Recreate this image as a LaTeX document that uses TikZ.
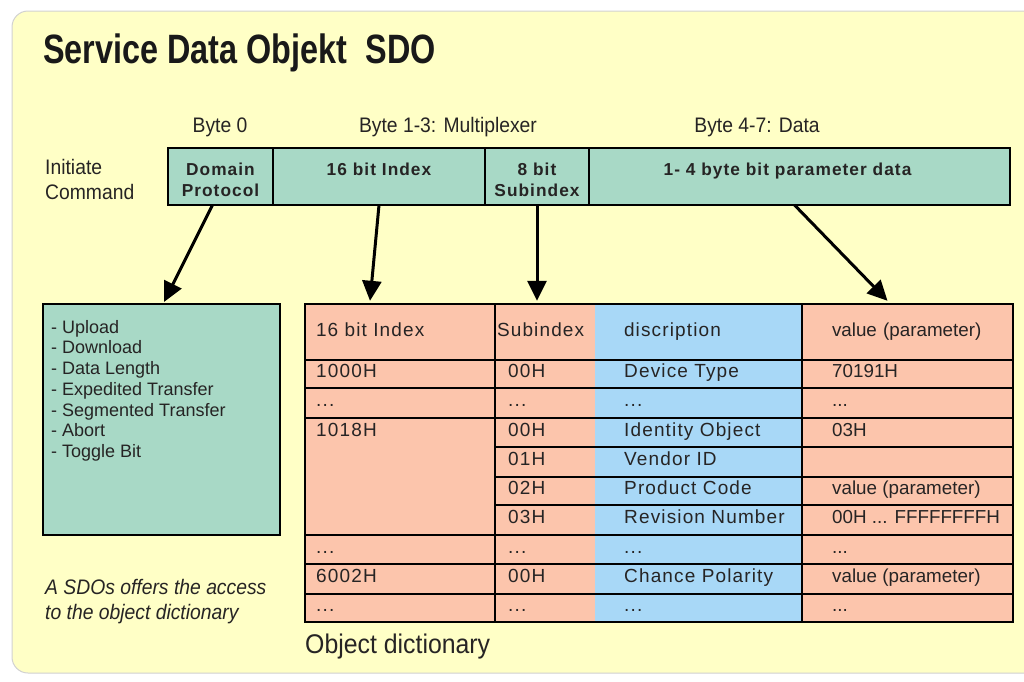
\documentclass[tikz,border=0pt]{standalone}
\usepackage{graphicx}
\usepackage{fontspec}
\setmainfont{Liberation Sans}
\newfontfamily\spacedfont[LetterSpace=6]{Liberation Sans}
\usetikzlibrary{arrows.meta,positioning,calc}

\definecolor{sdoyellow}{RGB}{255,255,198}
\definecolor{sdogreen}{RGB}{168,217,198}
\definecolor{sdosalmon}{RGB}{252,197,172}
\definecolor{sdoblue}{RGB}{168,216,247}
\definecolor{sdotext}{RGB}{38,36,36}

\newcommand{\sdonarrow}[2][0.92]{\scalebox{#1}[1]{#2}}
\newcommand{\tdots}{...}

\begin{document}
\begin{tikzpicture}[x=1pt,y=-1pt]  % one unit = one pixel of the sketch, y runs downwards

    % Define some common styles
    \tikzset{
        barcell/.style={draw=black, line width=2.5pt, fill=sdogreen, minimum height=57pt, inner sep=0pt, outer sep=0pt},
        bartext/.style={inner sep=0pt, align=center, text=sdotext, font=\fontsize{17.3}{21}\spacedfont\bfseries},
        toplabel/.style={inner sep=0pt, text=sdotext, font=\fontsize{21}{25}\selectfont},
        tabline/.style={line width=2.5pt, line cap=rect},
        headcell/.style={inner ysep=0pt, minimum height=56pt, align=left, text=sdotext, font=\fontsize{19}{22}\spacedfont, text height=13.5pt, text depth=4pt},
        tabtext/.style={anchor=west, inner sep=0pt, text=sdotext, font=\fontsize{19}{22}\spacedfont, text height=13.5pt, text depth=4pt},
        valtext/.style={tabtext, font=\fontsize{18.8}{22}\selectfont},
        arrowline/.style={line width=3pt, -{Triangle[length=20pt, width=19pt]}}
    }

    % Page and yellow panel
    \useasboundingbox (0,0) rectangle (1024,681);
    \clip (0,0) rectangle (1024,681);
    \draw[fill=sdoyellow, draw=black!18, line width=1pt, rounded corners=16pt] (12,11) rectangle (1060,673);

    % Title
    \node[anchor=base west, inner sep=0pt, text=black!90, font=\fontsize{41}{48}\selectfont\bfseries] (title) at (43,63) {\sdonarrow[0.79]{Service Data Objekt\ \ SDO}};

    % Byte labels above the command
    \node[toplabel] (byte0) at (220,127) {\sdonarrow{Byte 0}};
    \node[toplabel] (byte13) at (448,127) {\sdonarrow{Byte 1-3: Multiplexer}};
    \node[toplabel] (byte47) at (757,127) {\sdonarrow{Byte 4-7: Data}};
    \node[toplabel, anchor=west, align=left] (initcmd) at (45,179) {\sdonarrow{Initiate}\\\sdonarrow{Command}};

    % Initiate command bar
    \node[barcell, minimum width=105pt] (dom) at (220.5,176.5) {};
    \node[barcell, minimum width=212pt, right=0pt of dom] (idx) {};
    \node[barcell, minimum width=104pt, right=0pt of idx] (sub) {};
    \node[barcell, minimum width=421pt, right=0pt of sub] (data) {};
    \node[bartext, below=14.5pt of dom.north] (domtxt) {Domain\\Protocol};
    \node[bartext, below=14.5pt of idx.north] (idxtxt) {16 bit Index};
    \node[bartext, below=14.5pt of sub.north] (subtxt) {8 bit\\Subindex};
    \node[bartext, below=14.5pt of data.north, xshift=-12pt] (datatxt) {1- 4 byte bit parameter data};

    % Domain protocol box
    \node[draw=black, line width=2.5pt, fill=sdogreen, minimum width=237pt, minimum height=231pt, inner sep=0pt, outer sep=0pt] (ops) at (161.5,419.5) {};
    \node[anchor=north west, inner sep=0pt, align=left, text=sdotext, font=\fontsize{18}{20.7}\selectfont, below right=16pt and 8pt of ops.north west] (opslist) {- Upload\\- Download\\- Data Length\\- Expedited Transfer\\- Segmented Transfer\\- Abort\\- Toggle Bit};

    % Object dictionary table
    \fill[sdosalmon] (305,304) rectangle (595,622);
    \fill[sdoblue] (595,304) rectangle (802,622);
    \fill[sdosalmon] (802,304) rectangle (1013,622);
    \foreach \y in {360,388,418,535,564,594}
        \draw[tabline] (305,\y) -- (1013,\y);
    \foreach \y in {447,477,505}
        \draw[tabline] (495,\y) -- (1013,\y);
    \draw[tabline] (495,304) -- (495,622);
    \draw[tabline] (802,304) -- (802,622);
    \draw[tabline] (305,304) rectangle (1013,622);

    % Header row
    \node[headcell, text width=168pt, inner xsep=11pt] (hidx) at (400,332) {16 bit Index};
    \node[headcell, text width=96pt, inner xsep=2pt] (hsub) at (545,332) {Subindex};
    \node[headcell, text width=149pt, inner xsep=29pt] (hdesc) at (698.5,332) {discription};
    \node[headcell, text width=151pt, inner xsep=30pt, font=\fontsize{18.8}{22}\selectfont] (hval) at (907.5,332) {value (parameter)};

    % Entries, one loop per column
    \foreach \y/\txt [count=\n] in {373/1000H, 402/\tdots, 431.5/1018H, 548.5/\tdots, 578/6002H, 607/\tdots}
        \node[tabtext] (idxrow\n) at (316,\y) {\txt};
    \foreach \y/\txt [count=\n] in {373/00H, 402/\tdots, 431.5/00H, 461/01H, 490/02H, 519/03H, 548.5/\tdots, 578/00H, 607/\tdots}
        \node[tabtext] (subrow\n) at (508,\y) {\txt};
    \foreach \y/\txt [count=\n] in {373/Device Type, 402/\tdots, 431.5/Identity Object, 461/Vendor ID, 490/Product Code, 519/Revision Number, 548.5/\tdots, 578/Chance Polarity, 607/\tdots}
        \node[tabtext] (descrow\n) at (624,\y) {\txt};
    \foreach \y/\txt [count=\n] in {373/70191H, 402/\tdots, 431.5/03H, 490/value (parameter), 519/00H \tdots{} FFFFFFFFH, 548.5/\tdots, 578/value (parameter), 607/\tdots}
        \node[valtext] (valrow\n) at (832,\y) {\txt};

    % Captions
    \node[anchor=west, inner sep=0pt, text=sdotext, font=\fontsize{27}{32}\selectfont] (objdict) at (305,647) {\sdonarrow{Object dictionary}};
    \node[anchor=west, inner sep=0pt, align=left, text=sdotext, font=\fontsize{21}{25}\selectfont\itshape] (note) at (45,602) {\sdonarrow{A SDOs offers the access}\\\sdonarrow{to the object dictionary}};

    % Arrows from the command bytes
    \draw[arrowline] ($(dom.south)+(-8,0)$) -- ($(ops.north)+(2.5,-2)$);
    \draw[arrowline] (idx.south) -- ($(hidx.north)+(-30,-3)$);
    \draw[arrowline] (sub.south) -- ($(sub.south |- hsub.north)+(0,-3)$);
    \draw[arrowline] ($(data.south)+(-5,0)$) -- ($(hval.north)+(-20,-3)$);

\end{tikzpicture}
\end{document}
